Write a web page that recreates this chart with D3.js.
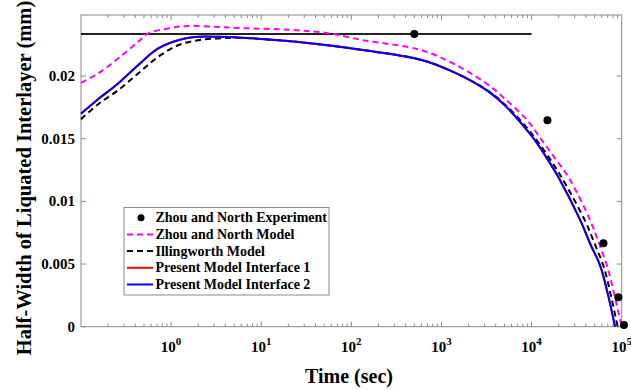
<!DOCTYPE html>
<html><head><meta charset="utf-8">
<script src="https://cdn.jsdelivr.net/npm/d3@7"></script>
<style>body{margin:0;background:#fff}svg{display:block}text{font-family:"Liberation Serif","Times New Roman",serif;font-weight:bold}</style>
</head><body>
<svg id="c" width="631" height="390"></svg>
<script>
const expT = [500, 15000, 62700, 91800, 106000];
const expV = [0.02336, 0.01648, 0.00665, 0.00234, 0.00013];

const zhouT = [0.1,0.155,0.258,0.43,0.556,0.927,1.55,3.3,5.5,24.5,57.5,135,575,1350,3160,5250,8913,12970,18620,26300,44670,56230,69180,83180,100000];
const zhouV = [0.01946,0.02021,0.0214,0.02273,0.0234,0.0238,0.0240,0.02392,0.02384,0.02366,0.0234,0.02286,0.0221,0.021,0.0194,0.01808,0.01648,0.01489,0.01335,0.0118,0.0085,0.0066,0.00478,0.0025,0.0];

const illT = [0.1,0.155,0.258,0.43,0.718,1.2,2.0,3.3,5.5,24.5,135,575,1350,3160,5250,8318,11750,16980,21630,38900,50120,63100,75860,90160];
const illV = [0.01656,0.01775,0.01887,0.0202,0.02153,0.02246,0.02286,0.023,0.02305,0.02273,0.02207,0.02132,0.02033,0.0189,0.01762,0.0161,0.01475,0.0131,0.0119,0.0085,0.00662,0.0048,0.0025,0.0];

const presT = [0.1,0.155,0.258,0.43,0.718,1.2,2.0,3.3,5.5,24.5,135,575,1350,3160,5250,7943,11220,15850,19950,34670,44670,57540,70790,84330];
const pres1V = [0.017,0.01815,0.01941,0.02087,0.0222,0.02286,0.02313,0.02313,0.02308,0.02273,0.02207,0.02132,0.02033,0.01887,0.01754,0.0161,0.01475,0.0131,0.0119,0.0085,0.00662,0.0049,0.0025,0.0];
const pres2V = pres1V.slice();

const refT = [0.1, 10000];
const refV = [0.02336, 0.02336];

const yTicks = [0, 0.005, 0.01, 0.015, 0.02];
const yTickLabels = ["0", "0.005", "0.01", "0.015", "0.02"];
const xTickExps = [0, 1, 2, 3, 4, 5];

const legendNames = ["Zhou and North Experiment","Zhou and North Model","Illingworth Model","Present Model Interface 1","Present Model Interface 2"];

const L = 81, R = 621.7, T = 15, B = 326.7;
const svg = d3.select("#c");
const x = d3.scaleLog().domain([0.1, 1e5]).range([L, R]);
const y = d3.scaleLinear().domain([0, 0.02487]).range([B, T]);
const axisCol = "#8a8a8a";

svg.append("rect").attr("x", L).attr("y", T).attr("width", R - L).attr("height", B - T)
  .attr("fill", "none").attr("stroke", axisCol).attr("stroke-width", 1);

const g = svg.append("g");
for (let e = -1; e <= 4; e++) {
  for (let m = 1; m <= 9; m++) {
    const v = m * Math.pow(10, e);
    if (v <= 0.1 || v > 1e5) continue;
    const px = x(v), len = m === 1 ? 5 : 3;
    g.append("line").attr("x1", px).attr("x2", px).attr("y1", B).attr("y2", B - len).attr("stroke", axisCol);
    g.append("line").attr("x1", px).attr("x2", px).attr("y1", T).attr("y2", T + len).attr("stroke", axisCol);
  }
}
yTicks.forEach((t, i) => {
  const py = y(t);
  g.append("line").attr("x1", L).attr("x2", L + 5).attr("y1", py).attr("y2", py).attr("stroke", axisCol);
  g.append("line").attr("x1", R).attr("x2", R - 5).attr("y1", py).attr("y2", py).attr("stroke", axisCol);
  g.append("text").attr("x", L - 6).attr("y", py + 5).attr("text-anchor", "end")
    .attr("font-size", 15).text(yTickLabels[i]);
});
xTickExps.forEach(e => {
  const t = g.append("text").attr("x", x(Math.pow(10, e))).attr("y", 352).attr("text-anchor", "middle").attr("font-size", 15);
  t.append("tspan").text("10");
  t.append("tspan").attr("dy", -7).attr("font-size", 11).text(String(e));
});

svg.append("text").attr("x", 349).attr("y", 383).attr("text-anchor", "middle").attr("font-size", 20).text("Time (sec)");
svg.append("text").attr("transform", "translate(31,178) rotate(-90)").attr("text-anchor", "middle").attr("font-size", 20.5)
  .text("Half-Width of Liquated Interlayer (mm)");

const line = d3.line().x(d => x(d[0])).y(d => y(d[1])).curve(d3.curveCatmullRom.alpha(0.5));
const zip = (a, b) => a.map((t, i) => [t, b[i]]);

svg.append("path").attr("d", line(zip(refT, refV))).attr("fill", "none").attr("stroke", "#222").attr("stroke-width", 2);
svg.append("path").attr("d", line(zip(zhouT, zhouV))).attr("fill", "none").attr("stroke", "#ff00ff").attr("stroke-width", 2).attr("stroke-dasharray", "6,4");
svg.append("path").attr("d", line(zip(illT, illV))).attr("fill", "none").attr("stroke", "#000").attr("stroke-width", 2).attr("stroke-dasharray", "6,4");
svg.append("path").attr("d", line(zip(presT, pres1V))).attr("fill", "none").attr("stroke", "#ff0000").attr("stroke-width", 2);
svg.append("path").attr("d", line(zip(presT, pres2V))).attr("fill", "none").attr("stroke", "#0000ff").attr("stroke-width", 2);

svg.selectAll("circle.exp").data(zip(expT, expV)).enter().append("circle")
  .attr("cx", d => x(d[0])).attr("cy", d => y(d[1])).attr("r", 4).attr("fill", "#000");

const lg = svg.append("g");
lg.append("rect").attr("x", 124).attr("y", 207.5).attr("width", 205).attr("height", 87.5)
  .attr("fill", "#fff").attr("stroke", axisCol);
const rowY = [217.7, 234.4, 251.1, 267.8, 284.5];
const styles = [null, {c: "#ff00ff", d: "6,4"}, {c: "#000", d: "6,4"}, {c: "#ff0000", d: null}, {c: "#0000ff", d: null}];
legendNames.forEach((n, i) => {
  const ry = rowY[i];
  if (i === 0) {
    lg.append("circle").attr("cx", 141).attr("cy", ry).attr("r", 3.5).attr("fill", "#000");
  } else {
    const l = lg.append("line").attr("x1", 127).attr("x2", 153).attr("y1", ry).attr("y2", ry)
      .attr("stroke", styles[i].c).attr("stroke-width", 2);
    if (styles[i].d) l.attr("stroke-dasharray", styles[i].d);
  }
  lg.append("text").attr("x", 155.5).attr("y", ry + 4.5).attr("font-size", 14).text(n);
});
</script>
</body></html>
